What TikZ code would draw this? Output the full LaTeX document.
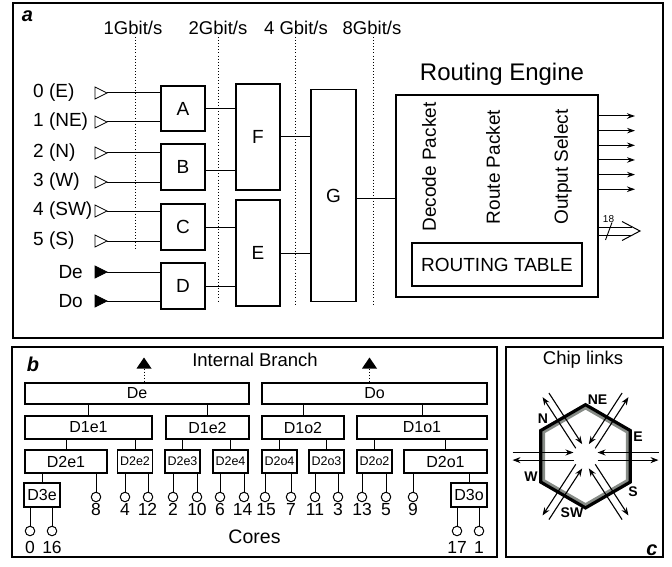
\documentclass[tikz,border=0pt]{standalone}
\usepackage{fontspec}
\setmainfont{Liberation Sans}
\usetikzlibrary{arrows.meta,calc}
\newcommand{\myfs}[1]{\fontsize{#1}{#1}\selectfont}
\newcommand{\intri}[3]{\draw[line width=0.8pt,fill=#3] (95,#2-6) -- (107,#2) -- (95,#2+6) -- cycle; \coordinate (#1) at (107,#2);}
\begin{document}
\begin{tikzpicture}[x=1pt,y=-1pt,
  frame/.style={draw=black,line width=1.8pt},
  blk/.style={draw,line width=1.1pt,inner sep=0pt,font=\myfs{19}},
  conn/.style={line width=1pt},
  speed/.style={line width=0.9pt,dash pattern=on 0.9pt off 2.2pt},
  txt/.style={inner sep=0pt,font=\myfs{19}},
  tag/.style={inner sep=0pt,font=\bfseries\itshape\myfs{20}},
  bbox/.style={draw,line width=1.1pt,inner sep=0pt,font=\myfs{16}},
  sbox/.style={bbox,font=\myfs{12.5},minimum width=35pt,minimum height=23pt},
  core/.style={circle,draw,line width=1pt,minimum size=9.5pt,inner sep=0pt},
  num/.style={inner sep=0pt,font=\myfs{17.5}},
  outarr/.style={line width=1pt,-{Stealth[length=8pt,width=5.5pt]}},
  carr/.style={line width=1.1pt,-{Stealth[length=8pt,width=6pt]}},
  hexl/.style={inner sep=0pt,font=\bfseries\myfs{14}}
]
\fill[white] (0,0) rectangle (672,567);
\useasboundingbox (0,0) rectangle (672,567);

% ---------------- frames
\draw[frame] (13,3) rectangle (663,338);
\draw[frame] (12,347) rectangle (497,557);
\draw[frame] (506,347) rectangle (663,557);

% ---------------- panel a
\node[tag] (ta) at (27.5,16) {a};
\node[txt,font=\myfs{18.5}] (g1) at (133,28) {1Gbit/s};
\node[txt,font=\myfs{18.5}] (g2) at (218,28) {2Gbit/s};
\node[txt,font=\myfs{18.5}] (g4) at (296,28) {4 Gbit/s};
\node[txt,font=\myfs{18.5}] (g8) at (372,28) {8Gbit/s};
\draw[speed] (135,37) -- (135,250);
\draw[speed] (218.3,37) -- (218.3,303);
\draw[speed] (295,37) -- (295,304);
\draw[speed] (373.3,37) -- (373.3,304);

\node[txt,anchor=west] (l0) at (33,93) {0 (E)};
\node[txt,anchor=west] (l1) at (33,122) {1 (NE)};
\node[txt,anchor=west] (l2) at (33,153) {2 (N)};
\node[txt,anchor=west] (l3) at (33,182) {3 (W)};
\node[txt,anchor=west] (l4) at (33,211) {4 (SW)};
\node[txt,anchor=west] (l5) at (33,241) {5 (S)};
\node[txt,anchor=east] (lDe) at (83,272) {De};
\node[txt,anchor=east] (lDo) at (83,301) {Do};
\intri{i0}{93}{white}
\intri{i1}{122}{white}
\intri{i2}{153}{white}
\intri{i3}{182}{white}
\intri{i4}{211}{white}
\intri{i5}{241}{white}
\intri{iDe}{272}{black}
\intri{iDo}{301}{black}

\node[blk,minimum width=44pt,minimum height=45pt] (A) at (183,108.5) {A};
\node[blk,minimum width=44pt,minimum height=46pt] (B) at (183,167) {B};
\node[blk,minimum width=44pt,minimum height=46pt] (C) at (183,227) {C};
\node[blk,minimum width=44pt,minimum height=46pt] (D) at (183,286) {D};
\node[blk,minimum width=44pt,minimum height=106pt] (F) at (258,137) {F};
\node[blk,minimum width=44pt,minimum height=106pt] (E) at (258,253) {E};
\node[blk,minimum width=45pt,minimum height=212pt] (G) at (333.5,195.5) {G};
\node[draw,line width=1.1pt,minimum width=202pt,minimum height=202pt,inner sep=0pt] (RE) at (497,196) {};
\node[txt,font=\myfs{24},anchor=base] (ret) at (502,81) {Routing Engine};
\node[txt,rotate=90] (dp) at (429,167) {Decode Packet};
\node[txt,rotate=90] (rp) at (493,167) {Route Packet};
\node[txt,rotate=90] (os) at (563,167) {Output Select};
\node[blk,minimum width=170pt,minimum height=43pt] (RT) at (497,264.5) {ROUTING TABLE};

\foreach \i in {i0,i1} \draw[conn] (\i) -- (\i -| A.west);
\foreach \i in {i2,i3} \draw[conn] (\i) -- (\i -| B.west);
\foreach \i in {i4,i5} \draw[conn] (\i) -- (\i -| C.west);
\foreach \i in {iDe,iDo} \draw[conn] (\i) -- (\i -| D.west);
\draw[conn] (A.east) -- (A.east -| F.west);
\coordinate (bo) at ($(B.east)+(0,3.7)$);
\draw[conn] (bo) -- (bo -| F.west);
\draw[conn] (C.east) -- (C.east -| E.west);
\draw[conn] (D.east) -- (D.east -| E.west);
\draw[conn] (F.east) -- (F.east -| G.west);
\draw[conn] (E.east) -- (E.east -| G.west);
\coordinate (go) at ($(G.east)+(0,2.8)$);
\draw[conn] (go) -- (go -| RE.west);

\foreach \k in {0,...,5} {
  \coordinate (o\k) at (598,{116+14.65*\k});
  \coordinate (oe\k) at (635,{116+14.65*\k});
  \draw[outarr] (o\k) -- (oe\k);
}
\coordinate (bu) at (598,227);
\coordinate (bl) at (598,235);
\coordinate (bt) at (640,231);
\draw[conn] (bu) -- (631.5,227);
\draw[conn] (bl) -- (631.5,235);
\draw[conn] (622,221.5) -- (bt) -- (622,240.5);
\draw[line width=0.9pt] (605.5,240) -- (612,222.5);
\node[inner sep=0pt,font=\myfs{10}] (n18) at (608.5,219.5) {18};

% ---------------- panel b
\node[tag] (tb) at (33,364) {b};
\node[txt,font=\myfs{18.5}] (ibr) at (255,360) {Internal Branch};

\node[bbox,minimum width=224pt,minimum height=21pt] (De) at (137,393.5) {De};
\node[bbox,minimum width=225pt,minimum height=21pt] (Do) at (374.5,393.5) {Do};

\fill (136.5,368.5) -- (144,357.5) -- (151.5,368.5) -- cycle;
\coordinate (tDe) at (144,368.5);
\draw[speed] (tDe) -- (tDe |- De.north);
\fill (362,368.5) -- (369.5,357.5) -- (377,368.5) -- cycle;
\coordinate (tDo) at (369.5,368.5);
\draw[speed] (tDo) -- (tDo |- Do.north);

\node[bbox,minimum width=127pt,minimum height=23pt] (D1e1) at (88.5,427.5) {D1e1};
\node[bbox,minimum width=83pt,minimum height=23pt] (D1e2) at (207.5,427.5) {D1e2};
\node[bbox,minimum width=82pt,minimum height=23pt] (D1o2) at (303,427.5) {D1o2};
\node[bbox,minimum width=130pt,minimum height=23pt] (D1o1) at (422,427.5) {D1o1};

\node[bbox,minimum width=82pt,minimum height=23pt] (D2e1) at (66,461.5) {D2e1};
\node[sbox] (D2e2) at (135,461.5) {D2e2};
\node[sbox] (D2e3) at (182.5,461.5) {D2e3};
\node[sbox] (D2e4) at (230.5,461.5) {D2e4};
\node[sbox] (D2o4) at (279.5,461.5) {D2o4};
\node[sbox] (D2o3) at (326.5,461.5) {D2o3};
\node[sbox] (D2o2) at (374.5,461.5) {D2o2};
\node[bbox,minimum width=83pt,minimum height=23pt] (D2o1) at (445.5,461.5) {D2o1};

\node[bbox,minimum width=36pt,minimum height=24pt] (D3e) at (42,495) {D3e};
\node[bbox,minimum width=36pt,minimum height=24pt] (D3o) at (469,495) {D3o};

\foreach \c/\p in {D1e1/De,D1e2/De,D1o2/Do,D1o1/Do,D2e1/D1e1,D2e2/D1e1,D2e3/D1e2,D2e4/D1e2,D2o4/D1o2,D2o3/D1o2,D2o2/D1o1,D2o1/D1o1,D3e/D2e1,D3o/D2o1}
  \draw[conn] (\c.north) -- (\c.north |- \p.south);

\foreach \x/\n/\p/\tx in {96/8/D2e1/96,125/4/D2e2/125,148/12/D2e2/147.5,173/2/D2e3/173,197/10/D2e3/197,220/6/D2e4/220,244/14/D2e4/242.5,265/15/D2o4/266,291/7/D2o4/291,315/11/D2o3/315,338/3/D2o3/338,362/13/D2o2/362,386/5/D2o2/386,413/9/D2o1/413} {
  \node[core] (c\n) at (\x,497) {};
  \draw[conn] (c\n.north) -- (c\n.north |- \p.south);
  \node[num] (n\n) at (\tx,509.5) {\n};
}
\foreach \x/\n/\p in {30/0/D3e,52/16/D3e,457/17/D3o,479/1/D3o} {
  \node[core] (c\n) at (\x,531) {};
  \draw[conn] (c\n.north) -- (c\n.north |- \p.south);
  \node[num] (n\n) at (\x,547) {\n};
}
\node[txt,font=\myfs{19.5}] (cores) at (254.5,537) {Cores};

% ---------------- panel c
\node[txt,font=\myfs{18.5}] (chl) at (583,360) {Chip links};
\node[tag] (tc) at (652,550) {c};
\coordinate (hc) at (585.5,456.3);
\draw[line width=3pt,color={rgb,255:red,135;green,140;blue,135},line join=miter]
  ($(hc)+(0,-48.4)$) -- ($(hc)+(41.9,-24.2)$) -- ($(hc)+(41.9,24.2)$) -- ($(hc)+(0,48.4)$) -- ($(hc)+(-41.9,24.2)$) -- ($(hc)+(-41.9,-24.2)$) -- cycle;
\draw[line width=3.2pt,line join=miter]
  ($(hc)+(0,-51.6)$) -- ($(hc)+(44.7,-25.8)$) -- ($(hc)+(44.7,25.8)$) -- ($(hc)+(0,51.6)$) -- ($(hc)+(-44.7,25.8)$) -- ($(hc)+(-44.7,-25.8)$) -- cycle;
\foreach \t/\s in {0/-1,57/-1,123/1,180/1,237/-1,303/1} {
  \pgfmathsetmacro{\p}{\t+\s*90}
  \draw[carr] ($(hc)+({12*cos(\t)+3.8*cos(\p)},{-12*sin(\t)-3.8*sin(\p)})$) -- ($(hc)+({73*cos(\t)+3.8*cos(\p)},{-73*sin(\t)-3.8*sin(\p)})$);
  \draw[carr] ($(hc)+({73*cos(\t)-3.8*cos(\p)},{-73*sin(\t)+3.8*sin(\p)})$) -- ($(hc)+({12*cos(\t)-3.8*cos(\p)},{-12*sin(\t)+3.8*sin(\p)})$);
}
\node[hexl] (hNE) at (597.5,400) {NE};
\node[hexl] (hN) at (543,419) {N};
\node[hexl] (hE) at (638,437) {E};
\node[hexl] (hW) at (531,476.5) {W};
\node[hexl] (hS) at (633,492) {S};
\node[hexl] (hSW) at (572,513) {SW};
\end{tikzpicture}
\end{document}
